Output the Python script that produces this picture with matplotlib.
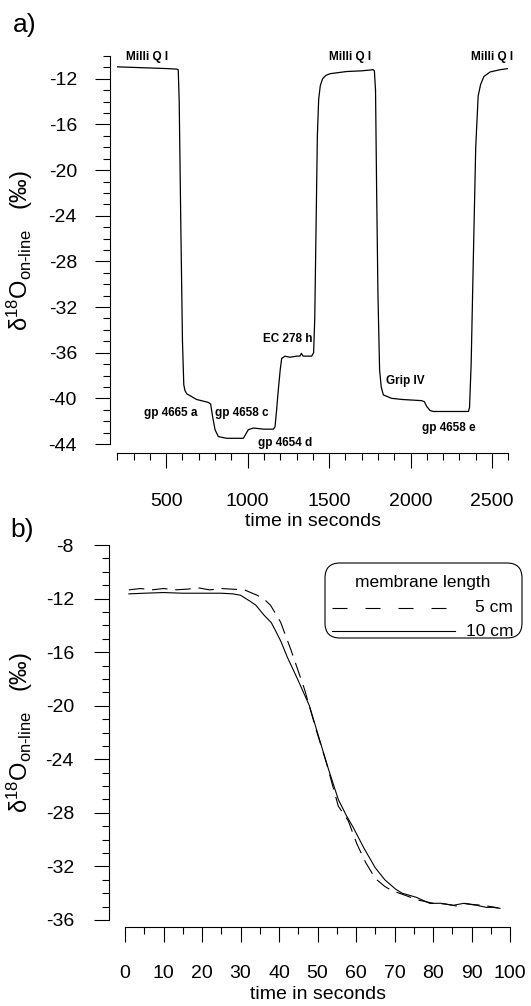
import numpy as np
import matplotlib
matplotlib.use("Agg")
import matplotlib.pyplot as plt
from matplotlib.ticker import MultipleLocator
from matplotlib.patches import FancyBboxPatch
from matplotlib.lines import Line2D

plt.rcParams['font.family'] = ['Liberation Sans', 'DejaVu Sans']
plt.rcParams['mathtext.fontset'] = 'custom'
plt.rcParams['mathtext.rm'] = 'Liberation Sans'
plt.rcParams['mathtext.it'] = 'Liberation Sans:italic'
plt.rcParams['axes.unicode_minus'] = False

# ---- panel a: on-line record of several samples ----
t_a = [200, 300, 400, 500, 565, 574, 580, 590, 600, 608, 615, 626, 687, 758, 773,
       785, 800, 820, 871, 974, 990, 1004, 1035, 1100, 1158, 1168, 1178, 1188, 1200,
       1209, 1229, 1260, 1300, 1321, 1330, 1340, 1393, 1405, 1412, 1420, 1428, 1436,
       1446, 1460, 1480, 1506, 1608, 1700, 1771, 1778, 1785, 1792, 1800, 1810, 1820,
       1833, 1884, 1950, 2068, 2085, 2099, 2120, 2140, 2250, 2355, 2362, 2372, 2385,
       2400, 2415, 2430, 2450, 2488, 2550, 2600]
y_a = [-10.95, -11.0, -11.05, -11.1, -11.15, -11.2, -14.0, -25.0, -35.0, -38.8, -39.3,
       -39.6, -40.1, -40.35, -40.5, -41.6, -42.75, -43.35, -43.5, -43.5, -43.1, -42.75,
       -42.6, -42.7, -42.7, -42.5, -41.0, -39.3, -37.5, -36.5, -36.3, -36.4, -36.3,
       -36.3, -36.05, -36.3, -36.3, -36.0, -33.0, -25.0, -17.0, -13.8, -12.6, -12.0,
       -11.7, -11.55, -11.36, -11.3, -11.2, -11.3, -13.0, -22.0, -31.0, -37.5, -39.0,
       -39.7, -40.0, -40.1, -40.2, -40.3, -40.7, -41.07, -41.15, -41.15, -41.15, -40.8,
       -37.0, -28.0, -18.0, -13.5, -12.5, -11.8, -11.4, -11.2, -11.1]

sample_names = ["Milli Q I", "Milli Q I", "Milli Q I", "gp 4665 a", "gp 4658 c",
                "gp 4654 d", "EC 278 h", "Grip IV", "gp 4658 e"]
sample_t = [385, 1628, 2500, 530, 963, 1230, 1246, 1966, 2235]
sample_y = [-10.05, -10.05, -10.05, -41.3, -41.3, -43.9, -34.8, -38.45, -42.6]

# ---- panel b: membrane length comparison ----
t_10cm = [1, 5, 10, 15, 20, 25, 28, 30, 32.5, 34, 36, 38, 39.1, 40.5, 42.2, 44.8,
          47.9, 50.5, 52.7, 55.4, 57.5, 59.3, 62, 65, 67.5, 70.3, 72, 75.6, 79.2, 82,
          85.3, 87.9, 91.3, 93.9, 95.5, 97.4]
y_10cm = [-11.65, -11.6, -11.55, -11.6, -11.6, -11.6, -11.65, -11.75, -12.2, -12.5,
          -13.2, -13.8, -14.4, -15.2, -16.4, -18.0, -20.0, -22.5, -24.6, -27.0, -28.2,
          -29.1, -30.6, -32.1, -33.0, -33.7, -34.0, -34.3, -34.76, -34.75, -34.9,
          -34.76, -34.9, -35.06, -35.05, -35.13]
t_5cm = [1, 4, 7, 10, 13, 16, 19, 22, 25, 28, 31, 34.3, 36, 37.8, 40.4, 43, 46.6, 49.6,
         52.3, 55.4, 58, 60.2, 62.5, 65, 67.5, 69.3, 73.2, 76, 80, 83, 86, 88, 90.5,
         93, 95, 97]
y_5cm = [-11.35, -11.25, -11.35, -11.25, -11.35, -11.3, -11.2, -11.35, -11.25, -11.3,
         -11.35, -11.75, -12.0, -12.5, -13.75, -15.75, -18.75, -21.75, -24.25, -27.5,
         -28.6, -30.3, -31.7, -32.9, -33.5, -33.8, -34.2, -34.5, -34.75, -34.8,
         -34.95, -34.75, -34.85, -34.9, -35.0, -35.1]

W, H = 531, 1006
fig = plt.figure(figsize=(W / 100, H / 100), dpi=100)

TICK_FS = 14
ylab = r'δ$^{18}$O$_{\mathrm{on}\text{-}\mathrm{line}}$   (‰)'


def style_axes(ax, left_out, bottom_out, ypad, xpad):
    for s in ("top", "right"):
        ax.spines[s].set_visible(False)
    ax.spines["left"].set_position(("outward", left_out))
    ax.spines["bottom"].set_position(("outward", bottom_out))
    for s in ("left", "bottom"):
        ax.spines[s].set_linewidth(0.8)
    ax.tick_params(which="major", length=10.8, width=0.8, labelsize=TICK_FS)
    ax.tick_params(which="minor", length=5, width=0.8)
    ax.tick_params(axis="y", which="major", pad=ypad)
    ax.tick_params(axis="x", which="major", pad=xpad)
    ax.patch.set_visible(False)


# panel a
ax_a = fig.add_axes([117.3 / W, 1 - 444 / H, 391 / W, 388 / H])
ax_a.plot(t_a, y_a, color="black", lw=0.9)
ax_a.set_xlim(200, 2600)
ax_a.set_ylim(-44, -10)
ax_a.xaxis.set_major_locator(MultipleLocator(500))
ax_a.xaxis.set_minor_locator(MultipleLocator(100))
ax_a.yaxis.set_major_locator(MultipleLocator(4))
ax_a.yaxis.set_minor_locator(MultipleLocator(1))
style_axes(ax_a, 5.3, 6.5, 13, 18)
ax_a.set_xlabel("time in seconds", fontsize=TICK_FS, labelpad=2.5)
for name, tx, ty in zip(sample_names, sample_t, sample_y):
    ax_a.text(tx, ty, name, ha="center", va="center", fontsize=8.5, weight="bold",
              family=["Liberation Sans Narrow", "Liberation Sans"], clip_on=False)

# panel b
ax_b = fig.add_axes([125 / W, 1 - 920 / H, 385 / W, 375 / H])
ax_b.plot(t_5cm, y_5cm, color="black", lw=0.8, dashes=(14, 7))
ax_b.plot(t_10cm, y_10cm, color="black", lw=0.8)
ax_b.set_xlim(0, 100)
ax_b.set_ylim(-36, -8)
ax_b.xaxis.set_major_locator(MultipleLocator(10))
ax_b.xaxis.set_minor_locator(MultipleLocator(5))
ax_b.yaxis.set_major_locator(MultipleLocator(4))
ax_b.yaxis.set_minor_locator(MultipleLocator(1))
style_axes(ax_b, 11.5, 5, 14.5, 16.5)
ax_b.set_xlabel("time in seconds", fontsize=TICK_FS, labelpad=3)

# legend box for panel b (inches, from the bottom-left of the figure)
tr = fig.dpi_scale_trans
fig.add_artist(FancyBboxPatch((3.25, 3.68), 1.97, 0.75,
                              boxstyle="round,pad=0,rounding_size=0.15",
                              transform=tr, fc="white", ec="black", lw=0.8))
fig.add_artist(Line2D([3.32, 4.47], [3.98, 3.98], transform=tr, color="black",
                      lw=0.8, dashes=(13.5, 16.2)))
fig.add_artist(Line2D([3.32, 4.55], [3.75, 3.75], transform=tr, color="black", lw=0.8))
fig.text(4.23, 4.23, "membrane length", transform=tr, ha="center", va="center",
         fontsize=12.5)
fig.text(5.13, 3.98, "5 cm", transform=tr, ha="right", va="center", fontsize=12.5)
fig.text(5.13, 3.75, "10 cm", transform=tr, ha="right", va="center", fontsize=12.5)

# y labels and panel letters
fig.text(20 / W, 1 - 250 / H, ylab, rotation=90, ha="center", va="center", fontsize=17)
fig.text(20 / W, 1 - 732 / H, ylab, rotation=90, ha="center", va="center", fontsize=17)
fig.text(13 / W, 1 - 25 / H, "a)", ha="left", va="center", fontsize=19)
fig.text(10 / W, 1 - 530 / H, "b)", ha="left", va="center", fontsize=19)

fig.savefig("out.png", dpi=100)
